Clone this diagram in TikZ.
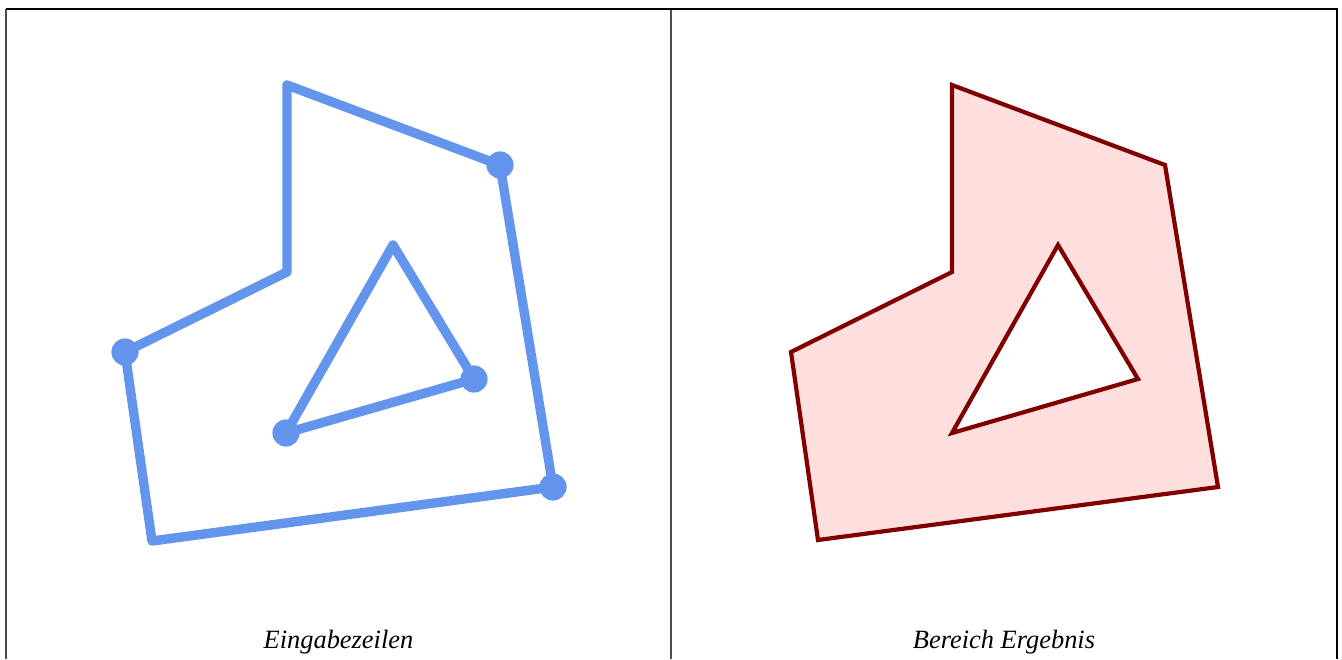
\documentclass[tikz,border=0pt]{standalone}
\usepackage{fontspec}
\setmainfont{Liberation Serif}
\usepackage{xcolor}
\usepackage{tikz}
\usetikzlibrary{positioning}
\definecolor{lineblue}{RGB}{100,149,237}
\definecolor{areared}{RGB}{128,0,0}
\definecolor{areafill}{RGB}{255,222,222}

\begin{document}
\begin{tikzpicture}[x=0.5pt, y=-0.5pt, every node/.style={font=\itshape\fontsize{13.2}{15}\selectfont}]
\useasboundingbox (0,0) rectangle (1342,659);

% table frame
\draw[gray!60!black, line width=0.9pt] (6,9) -- (6,659);
\draw[gray!60!black, line width=0.9pt] (671,9) -- (671,659);
\draw[black, line width=0.9pt] (1337,9) -- (1337,659);
\draw[black, line width=1pt] (5.5,9) -- (1337.5,9);

% input lines
\draw[lineblue, line width=4.7pt, line join=round, line cap=round]
  (125,352) -- (287,272) -- (287,85) -- (500,165) -- (553,487) -- (152,541) -- cycle;
\draw[lineblue, line width=4.7pt, line join=round, line cap=round]
  (393,245) -- (474,379) -- (286,433) -- cycle;
\foreach \x/\y in {125/352, 500/165, 553/487, 474/379, 286/433} {
  \fill[lineblue] (\x,\y) circle (6.8pt);
}
\node[anchor=base] (input) at (338.5,648) {Eingabezeilen};

% result area
\filldraw[areared, fill=areafill, even odd rule, line width=2.1pt, line join=miter]
  (791,352) -- (952,272) -- (952,85) -- (1165,165) -- (1218,487) -- (818,540) -- cycle
  (1058,245) -- (1138,379) -- (952,433) -- cycle;
\node[anchor=base] (result) at (1004,648) {Bereich Ergebnis};

\end{tikzpicture}
\end{document}
